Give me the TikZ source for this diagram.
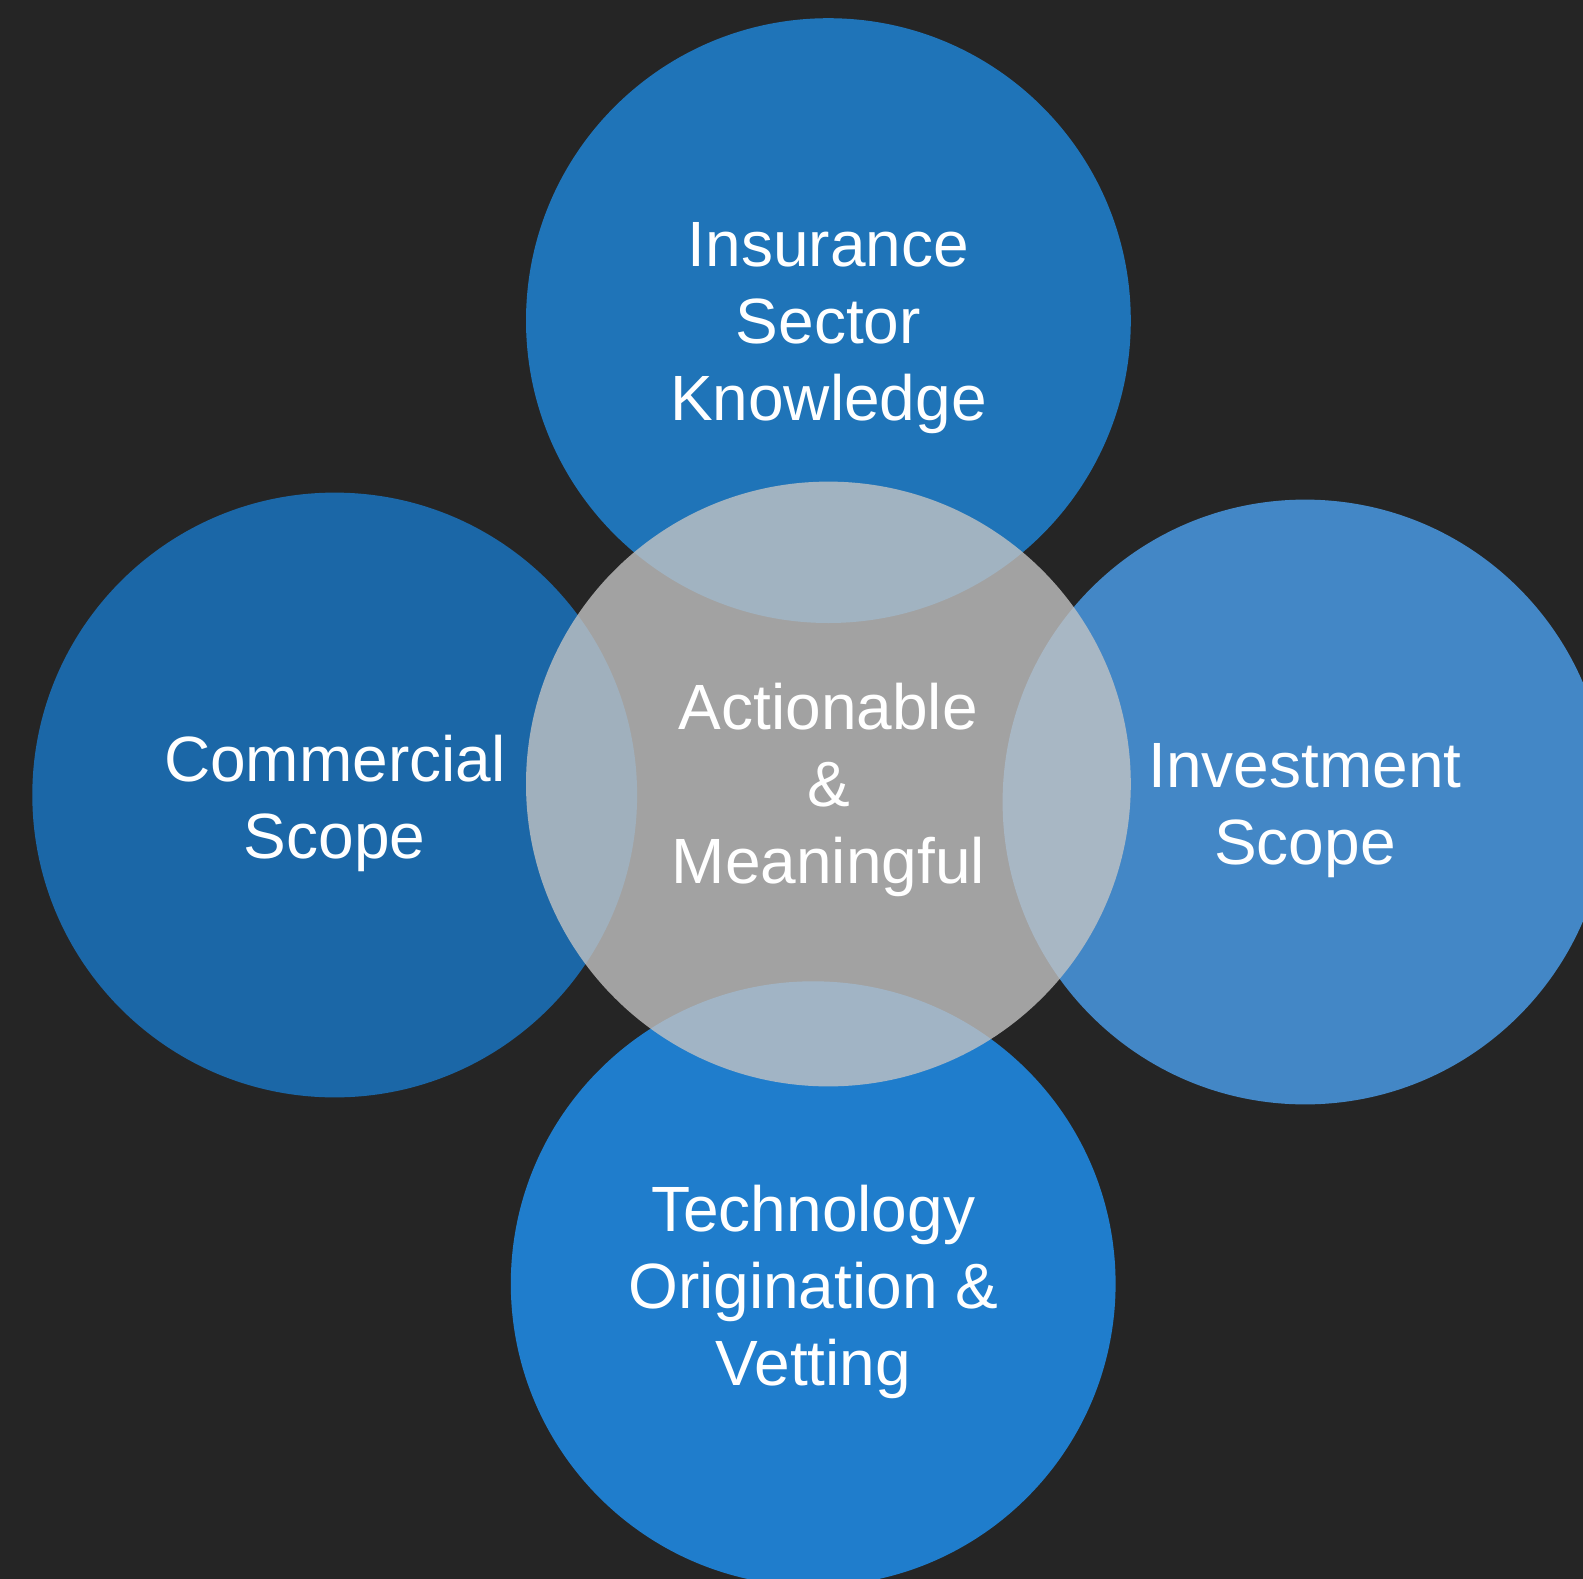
\documentclass[tikz,border=0pt]{standalone}
\usepackage{fontspec}
\setmainfont{Liberation Sans}
\definecolor{bgc}{RGB}{37,37,37}
\definecolor{ctop}{RGB}{31,116,184}
\definecolor{cleft}{RGB}{27,103,167}
\definecolor{cright}{RGB}{67,135,198}
\definecolor{cbot}{RGB}{31,125,204}
\definecolor{ccen}{RGB}{196,196,196}
\begin{document}
\begin{tikzpicture}[x=1pt,y=-1pt,
  disc/.style={circle,minimum size=604.8pt,inner sep=0pt,draw=none},
  lbl/.style={text=white,align=center,inner sep=0pt,font=\fontsize{64}{77}\selectfont}]
\fill[bgc] (0,0) rectangle (1583,1579);
\useasboundingbox (0,0) rectangle (1583,1579);
\clip (0,0) rectangle (1583,1579);
\node[disc,fill=ctop] (top) at (828.4,320.6) {};
\node[disc,fill=cleft] (left) at (334.7,795) {};
\node[disc,fill=cright] (right) at (1305,802) {};
\node[disc,fill=cbot] (bot) at (813.2,1283.7) {};
\node[disc,fill=ccen,fill opacity=0.79] (cen) at (828.4,784) {};
\node[lbl] (ttop) at (828.4,328.6) {Insurance\\Sector\\Knowledge};
\node[lbl] (tleft) at (334.7,803) {Commercial\\Scope};
\node[lbl] (tright) at (1305,810.5) {Investment\\Scope};
\node[lbl] (tbot) at (813.2,1291.7) {Technology\\Origination \&\\Vetting};
\node[lbl] (tcen) at (828.4,790) {Actionable\\\&\\Meaningful};
\end{tikzpicture}
\end{document}
